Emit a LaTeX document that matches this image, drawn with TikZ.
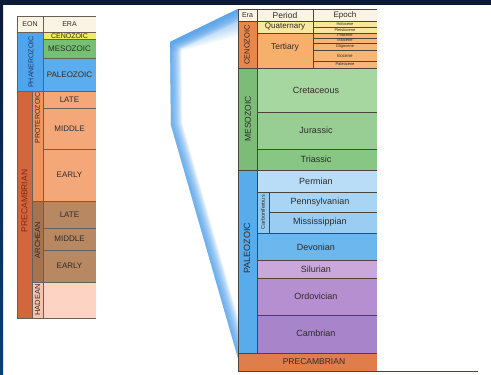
\documentclass[tikz,border=0pt]{standalone}
\usepackage{fontspec}
\setmainfont{Liberation Sans}
\definecolor{navy}{HTML}{0B1A36}
\definecolor{stripblue}{HTML}{083E7E}
\definecolor{fanblue}{HTML}{4A9EEC}
\definecolor{txtc}{HTML}{2E2A28}
\definecolor{gridc}{HTML}{6A5E55}
\definecolor{rgrid}{HTML}{4A4540}
\definecolor{hdr}{HTML}{FBF3E4}
\definecolor{lcen}{HTML}{F3EC5C}
\definecolor{lmes}{HTML}{76C074}
\definecolor{lpal}{HTML}{5AAEF0}
\definecolor{phan}{HTML}{4FA4EC}
\definecolor{prec}{HTML}{D4663E}
\definecolor{protc}{HTML}{EE955F}
\definecolor{prot}{HTML}{F4A87A}
\definecolor{archc}{HTML}{A57350}
\definecolor{arch}{HTML}{B88862}
\definecolor{hadc}{HTML}{F5C4B0}
\definecolor{had}{HTML}{FDD4C3}
\definecolor{rcen}{HTML}{E8874A}
\definecolor{quat}{HTML}{F8E7A0}
\definecolor{tert}{HTML}{F7B06C}
\definecolor{epy}{HTML}{F9E69C}
\definecolor{epo}{HTML}{F7B673}
\definecolor{rmes}{HTML}{7DBB78}
\definecolor{cret}{HTML}{A7D7A1}
\definecolor{jur}{HTML}{98CE93}
\definecolor{tri}{HTML}{87C683}
\definecolor{rpal}{HTML}{58ACEC}
\definecolor{perm}{HTML}{B9DDF7}
\definecolor{carb}{HTML}{92CBF1}
\definecolor{penn}{HTML}{A9D5F5}
\definecolor{miss}{HTML}{9BCDF2}
\definecolor{dev}{HTML}{6DB7EF}
\definecolor{sil}{HTML}{CBA8DC}
\definecolor{ord}{HTML}{B58FD0}
\definecolor{cam}{HTML}{A884CA}
\definecolor{rprec}{HTML}{E07E4B}
\definecolor{phantxt}{HTML}{1D3C6C}
\definecolor{prectxt}{HTML}{7A2A14}
\newcommand\myfs[1]{\fontsize{#1}{#1}\selectfont}
\begin{document}
\begin{tikzpicture}[x=1pt,y=-1pt,
  lbl/.style={inner sep=0pt, text=txtc},
  vlbl/.style={inner sep=0pt, text=txtc, rotate=90},
  gl/.style={draw=gridc, line width=0.5pt},
  rl/.style={draw=rgrid, line width=0.6pt}]
\useasboundingbox (0,0) rectangle (491,375);
\fill[white] (0,0) rectangle (491,375);
\fill[navy] (0,0) rectangle (491,5);
\shade[top color=navy, bottom color=stripblue] (0,5) rectangle (3,375);

% fan (soft inner glow along its outer edges)
\begin{scope}
\clip (170,42) -- (238,9) -- (238,358) -- (171,125) -- cycle;
\foreach \i in {1,...,14}
  \draw[fanblue, line width=\i*1.6pt, opacity=0.1, line join=round]
    (238,9) -- (170,42) -- (171,125) -- (238,358);
\foreach \i in {1,...,8}
  \fill[fanblue, opacity=0.07] (170,42) -- (238,9) -- (238,18+\i*2.2) -- (172,44+\i*1.2) -- cycle;
\end{scope}

% ---------- left chart ----------
\fill[hdr] (17,16) rectangle (96,32);
\fill[lcen] (43,32) rectangle (96,39);
\fill[lmes] (43,39) rectangle (96,58);
\fill[lpal] (43,58) rectangle (96,91);
\fill[phan] (17,32) rectangle (43,91);
\fill[prec] (17,91) rectangle (32,318);
\fill[protc] (32,91) rectangle (43,201);
\fill[prot] (43,91) rectangle (96,201);
\fill[archc] (32,201) rectangle (43,282);
\fill[arch] (43,201) rectangle (96,282);
\fill[hadc] (32,282) rectangle (43,318);
\fill[had] (43,282) rectangle (96,318);

\draw[gl] (96,16) -- (17,16) -- (17,318) -- (96,318);
\draw[gl] (17,32) -- (96,32);
\draw[gl] (43,16) -- (43,318);
\draw[gl] (32,91) -- (32,318);
\draw[gl] (43,39) -- (96,39);
\draw[gl] (43,58) -- (96,58);
\draw[gl] (17,91) -- (96,91);
\draw[gl] (43,108) -- (96,108);
\draw[gl] (43,149) -- (96,149);
\draw[gl] (32,201) -- (96,201);
\draw[gl] (43,228) -- (96,228);
\draw[gl] (43,250) -- (96,250);
\draw[gl] (32,282) -- (96,282);

\node[lbl, font=\myfs{7}] (leon) at (30,24) {EON};
\node[lbl, font=\myfs{7}] (lera) at (69.5,24) {ERA};
\node[lbl, font=\myfs{7}] (lcenl) at (69.5,35.6) {CENOZOIC};
\node[lbl, font=\myfs{8}] (lmesl) at (69.5,48.5) {MESOZOIC};
\node[lbl, font=\myfs{8}] (lpall) at (69.5,74.5) {PALEOZOIC};
\node[lbl, font=\myfs{8}] (plate) at (69.5,99.5) {LATE};
\node[lbl, font=\myfs{8}] (pmid) at (69.5,129) {MIDDLE};
\node[lbl, font=\myfs{8}] (pearly) at (69.5,175) {EARLY};
\node[lbl, font=\myfs{8}] (alate) at (69.5,214.5) {LATE};
\node[lbl, font=\myfs{8}] (amid) at (69.5,239) {MIDDLE};
\node[lbl, font=\myfs{8}] (aearly) at (69.5,266) {EARLY};
\node[vlbl, font=\myfs{7}, text=phantxt] (lphan) at (31,62) {PHANEROZOIC};
\node[vlbl, font=\myfs{8.5}, text=prectxt] (lprec) at (24.5,201) {PRECAMBRIAN};
\node[vlbl, font=\myfs{7}] (lprot) at (37.5,118) {PROTEROZOIC};
\node[vlbl, font=\myfs{7.5}] (larch) at (37.5,240) {ARCHEAN};
\node[vlbl, font=\myfs{7.5}] (lhad) at (37.5,300) {HADEAN};

% ---------- right chart ----------
\fill[hdr] (238,9) rectangle (377,21);
\fill[rcen] (238,21) rectangle (257,68);
\fill[quat] (257,21) rectangle (313,33);
\fill[tert] (257,33) rectangle (313,68);
\fill[epy] (313,21) rectangle (377,33);
\fill[epo] (313,33) rectangle (377,68);
\fill[rmes] (238,68) rectangle (257,170);
\fill[cret] (257,68) rectangle (377,112);
\fill[jur] (257,112) rectangle (377,149);
\fill[tri] (257,149) rectangle (377,170);
\fill[rpal] (238,170) rectangle (257,353);
\fill[perm] (257,170) rectangle (377,192);
\fill[carb] (257,192) rectangle (269,233);
\fill[penn] (269,192) rectangle (377,212);
\fill[miss] (269,212) rectangle (377,233);
\fill[dev] (257,233) rectangle (377,260);
\fill[sil] (257,260) rectangle (377,278);
\fill[ord] (257,278) rectangle (377,315);
\fill[cam] (257,315) rectangle (377,353);
\fill[rprec] (238,353) rectangle (377,371);

\draw[rl] (377,9) -- (238,9) -- (238,371) -- (478,371);
\draw[rl] (238,21) -- (377,21);
\draw[rl] (257,9) -- (257,353);
\draw[rl] (313,9) -- (313,68);
\draw[rl] (257,33) -- (313,33);
\foreach \yy in {27,33,38,43,50,61} \draw[rl, line width=0.5pt] (313,\yy) -- (377,\yy);
\draw[rl] (238,68) -- (377,68);
\draw[rl] (257,112) -- (377,112);
\draw[rl] (257,149) -- (377,149);
\draw[rl] (238,170) -- (377,170);
\draw[rl] (257,192) -- (377,192);
\draw[rl] (269,212) -- (377,212);
\draw[rl] (269,192) -- (269,233);
\draw[rl] (257,233) -- (377,233);
\draw[rl] (257,260) -- (377,260);
\draw[rl] (257,278) -- (377,278);
\draw[rl] (257,315) -- (377,315);
\draw[rl] (238,353) -- (377,353);

\node[lbl, font=\myfs{7}] (hera) at (247.5,15) {Era};
\node[lbl, font=\myfs{8.5}] (hper) at (285,15) {Period};
\node[lbl, font=\myfs{8}] (hepo) at (345,15) {Epoch};
\node[lbl, font=\myfs{8}] (quatl) at (285,27) {Quaternary};
\node[lbl, font=\myfs{8.5}] (tertl) at (285,47) {Tertiary};
\node[lbl, font=\myfs{4}] (holo) at (345,24) {Holocene};
\node[lbl, font=\myfs{4}] (plei) at (345,30) {Pleistocene};
\node[lbl, font=\myfs{4}] (plio) at (345,35.5) {Pliocene};
\node[lbl, font=\myfs{4}] (mioc) at (345,40.5) {Miocene};
\node[lbl, font=\myfs{4}] (olig) at (345,46.5) {Oligocene};
\node[lbl, font=\myfs{4.5}] (eoc) at (345,55.5) {Eocene};
\node[lbl, font=\myfs{4}] (paleoc) at (345,64.5) {Paleocene};
\node[lbl, font=\myfs{9}] (cretl) at (316,90) {Cretaceous};
\node[lbl, font=\myfs{9}] (jurl) at (316,130) {Jurassic};
\node[lbl, font=\myfs{9}] (tril) at (316,159.5) {Triassic};
\node[lbl, font=\myfs{9}] (perml) at (316,181) {Permian};
\node[lbl, font=\myfs{9}] (pennl) at (320,202) {Pennsylvanian};
\node[lbl, font=\myfs{9}] (missl) at (320,222.5) {Mississippian};
\node[lbl, font=\myfs{9}] (devl) at (316,247) {Devonian};
\node[lbl, font=\myfs{9}] (sill) at (316,269) {Silurian};
\node[lbl, font=\myfs{9}] (ordl) at (316,296) {Ordovician};
\node[lbl, font=\myfs{9}] (caml) at (316,333.5) {Cambrian};
\node[lbl, font=\myfs{8.5}] (rprecl) at (314,362) {PRECAMBRIAN};
\node[vlbl, font=\myfs{5.5}] (carbl) at (263,212.5) {Carboniferous};
\node[vlbl, font=\myfs{7.5}] (rcenl) at (247,45) {CENOZOIC};
\node[vlbl, font=\myfs{8.5}] (rmesl) at (248,119) {MESOZOIC};
\node[vlbl, font=\myfs{9}] (rpall) at (247,248) {PALEOZOIC};
\end{tikzpicture}
\end{document}
